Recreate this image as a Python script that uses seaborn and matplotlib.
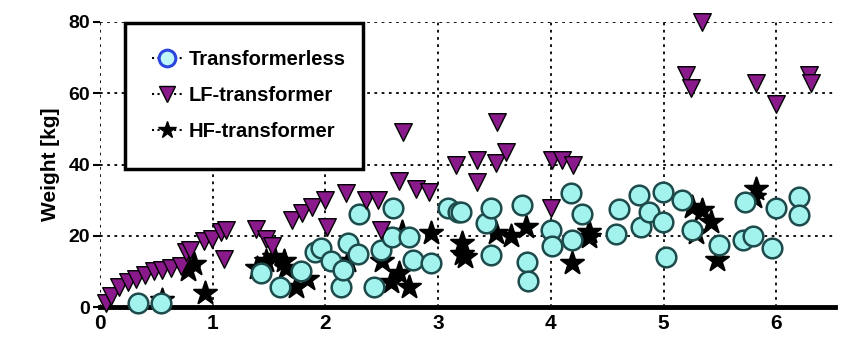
import matplotlib
matplotlib.use("Agg")
import matplotlib.pyplot as plt
from matplotlib.lines import Line2D
import pandas as pd
import seaborn as sns

# data: (x, weight in kg)
lf_x = [0.05, 0.1, 0.17, 0.25, 0.32, 0.4, 0.48, 0.55, 0.63, 0.72, 0.76, 0.8, 0.92, 0.99,
        1.07, 1.12, 1.1, 1.38, 1.47, 1.53, 1.7, 1.79, 1.88, 2.0, 2.01, 2.18, 2.36, 2.47,
        2.49, 2.65, 2.69, 2.8, 2.92, 3.16, 3.34, 3.34, 3.51, 3.52, 3.6, 4.01, 4.1, 4.2,
        4.0, 5.2, 5.24, 5.34, 5.82, 6.0, 6.29, 6.31]
lf_y = [1, 3, 5.5, 7, 8, 9, 10, 10.5, 11, 11.5, 15.5, 16, 18.5, 19,
        21, 21.5, 13.5, 22, 19, 17, 24.5, 26.5, 28, 30, 22.5, 32, 30, 30,
        21.5, 35.5, 49, 33, 32.3, 40, 41.3, 35, 40.5, 52, 43.5, 41.3, 41.3, 40,
        27.8, 65, 61.5, 80, 63, 57, 65, 63]

tl_x = [0.34, 0.54, 1.43, 1.6, 1.78, 1.91, 1.96, 2.05, 2.14, 2.16, 2.2, 2.29, 2.3, 2.43,
        2.49, 2.59, 2.6, 2.74, 2.78, 2.94, 3.09, 3.18, 3.2, 3.42, 3.47, 3.47, 3.74, 3.79,
        3.8, 4.0, 4.01, 4.18, 4.28, 4.19, 4.58, 4.6, 4.78, 4.8, 4.87, 4.99, 4.99, 5.02,
        5.16, 5.25, 5.49, 5.7, 5.72, 5.79, 5.96, 6.0, 6.2, 6.2]
tl_y = [1, 1, 9.5, 5.5, 10, 15.5, 16.5, 13, 5.5, 10.4, 18, 15, 26, 5.5,
        16, 19.7, 27.8, 19.7, 13.2, 12.4, 27.8, 26.7, 26.7, 23.6, 27.8, 14.5, 28.6, 12.5,
        7.3, 21.6, 17, 32, 26, 18.8, 20.5, 27.5, 31.5, 22.5, 26.8, 32.2, 24, 14,
        30, 21.6, 17.5, 18.8, 29.5, 20, 16.6, 27.9, 31, 25.8]

hf_x = [0.55, 0.78, 0.83, 0.93, 1.39, 1.47, 1.54, 1.63, 1.65, 1.74, 1.84, 2.2, 2.5, 2.58,
        2.65, 2.74, 2.68, 2.94, 3.21, 3.24, 3.21, 3.51, 3.65, 3.78, 4.19, 4.34, 4.34,
        5.29, 5.34, 5.25, 5.47, 5.42, 5.8, 5.82]
hf_y = [2, 10.5, 12, 4, 11, 13, 14, 13, 11, 5.6, 8, 13, 13, 7,
        9.5, 5.6, 21, 20.8, 18, 14, 15, 20.8, 20, 22.5, 12.4, 19.7, 21,
        20.8, 27.2, 28, 13.2, 24, 31, 33]

labels = ["Transformerless", "LF-transformer", "HF-transformer"]

lf = pd.DataFrame({"x": lf_x, "y": lf_y})
tl = pd.DataFrame({"x": tl_x, "y": tl_y})
hf = pd.DataFrame({"x": hf_x, "y": hf_y})

sns.set_style("white")
plt.rcParams["font.family"] = ["Liberation Sans", "DejaVu Sans"]
plt.rcParams["font.weight"] = "bold"
plt.rcParams["text.color"] = "black"
plt.rcParams["axes.labelcolor"] = "black"
plt.rcParams["xtick.color"] = "black"
plt.rcParams["ytick.color"] = "black"

fig = plt.figure(figsize=(8.47, 3.47), dpi=100)
ax = fig.add_axes([100 / 847, 40 / 347, 735 / 847, 285 / 347])

purple = "#8a1a8c"
cyan = "#a2f2ee"
teal = "#1d4a4a"

sns.scatterplot(data=hf, x="x", y="y", marker="*", s=300, color="black",
                edgecolor="black", linewidth=1.5, ax=ax, legend=False, clip_on=False, zorder=3)
sns.scatterplot(data=tl, x="x", y="y", marker="o", s=200, color=cyan,
                edgecolor=teal, linewidth=1.8, ax=ax, legend=False, clip_on=False, zorder=4)
sns.scatterplot(data=lf, x="x", y="y", marker="v", s=160, color=purple,
                edgecolor="black", linewidth=1, ax=ax, legend=False, clip_on=False, zorder=5)

ax.set_xlim(0, 6.52)
ax.set_ylim(0, 80)
ax.set_xticks([0, 1, 2, 3, 4, 5, 6])
ax.set_yticks([0, 20, 40, 60, 80])
ax.grid(True, color="black", linestyle=(0, (1.5, 2.5)), linewidth=1.3)
ax.set_axisbelow(True)
for side in ["top", "right", "left"]:
    ax.spines[side].set_visible(False)
ax.spines["bottom"].set_linewidth(3.5)
ax.spines["bottom"].set_color("black")
ax.tick_params(axis="x", direction="in", length=4, width=1.5, labelsize=15, pad=5)
ax.tick_params(axis="y", direction="out", length=5, width=1.5, labelsize=14, pad=2, left=True)
ax.set_xlabel("")
ax.set_ylabel("Weight [kg]", fontsize=15, fontweight="bold", labelpad=6)

handles = [
    Line2D([0], [0], marker="o", linestyle=":", color="black", markersize=12,
           markerfacecolor="#bff6f8", markeredgecolor="#2a45e0", markeredgewidth=2.2),
    Line2D([0], [0], marker="v", linestyle=":", color="black", markersize=11,
           markerfacecolor=purple, markeredgecolor="black"),
    Line2D([0], [0], marker="*", linestyle=":", color="black", markersize=13,
           markerfacecolor="black", markeredgecolor="black"),
]
leg = ax.legend(handles, labels, loc="upper left",
                bbox_to_anchor=(25 / 735, 0, 238 / 735, 284 / 285), mode="expand",
                frameon=True, fancybox=False, framealpha=1, borderpad=1.35, labelspacing=0.85,
                handlelength=1.5, handletextpad=0.3, borderaxespad=0,
                prop={"size": 14.5, "weight": "bold"})
leg.get_frame().set_edgecolor("black")
leg.get_frame().set_linewidth(2.5)
leg.set_zorder(10)

fig.savefig("out.png", dpi=100)
